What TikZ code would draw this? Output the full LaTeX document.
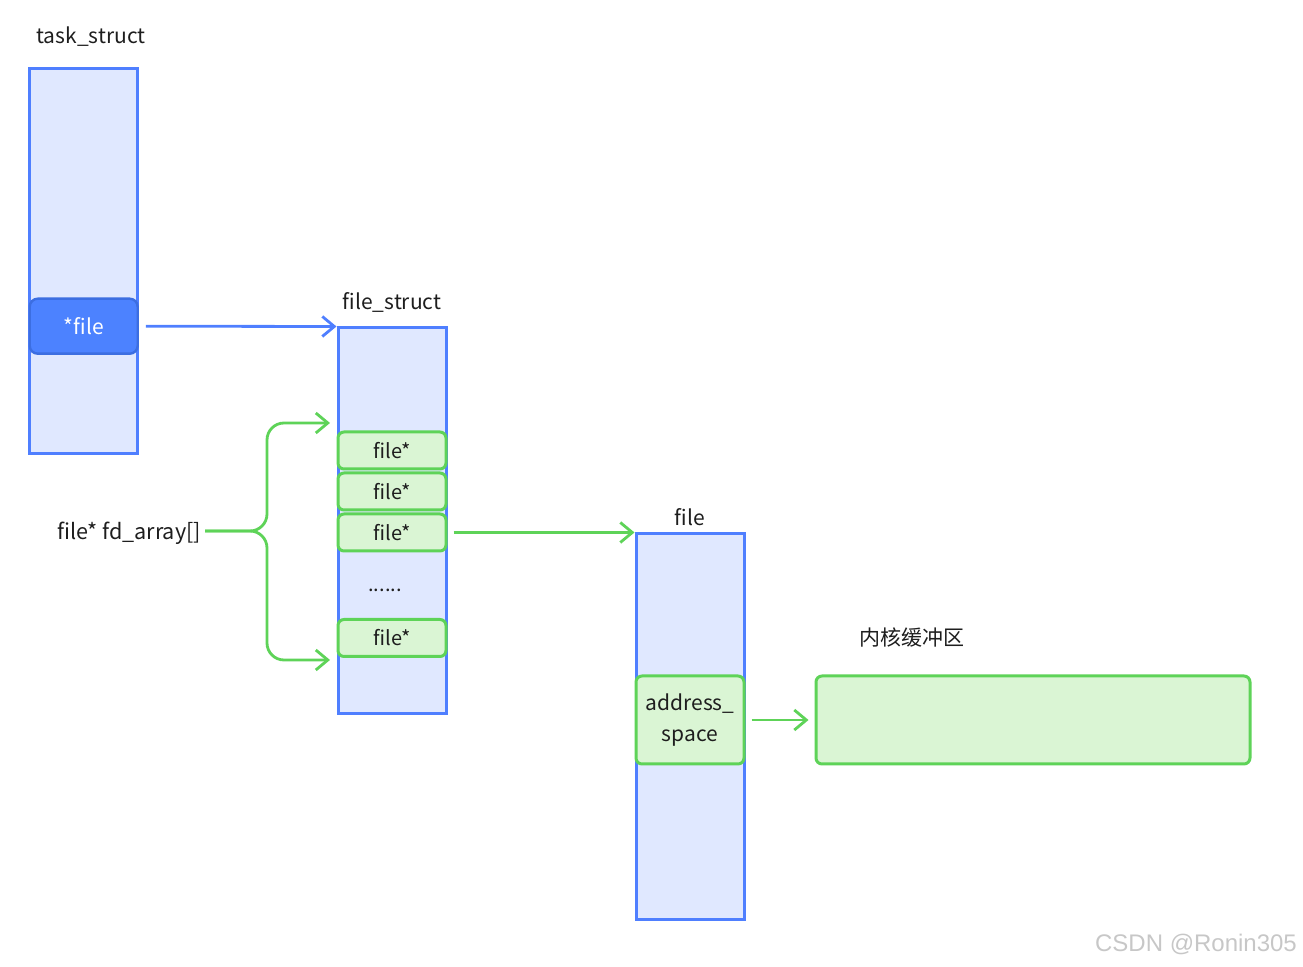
\documentclass[tikz,border=0pt]{standalone}
\usepackage{fontspec}
\setmainfont{Noto Sans CJK SC}
\newfontfamily\markfont{Liberation Sans}
\usetikzlibrary{arrows.meta}
\definecolor{boxblue}{RGB}{79,127,255}
\definecolor{boxfill}{RGB}{224,232,255}
\definecolor{ptrblue}{RGB}{76,130,255}
\definecolor{ptrline}{RGB}{60,110,225}
\definecolor{slotgreen}{RGB}{94,211,88}
\definecolor{slotfill}{RGB}{218,245,212}
\definecolor{labeltext}{RGB}{30,30,30}
\newcommand\slottext[1]{\raisebox{-1.5pt}{#1}}
\tikzset{
    structbox/.style={draw=boxblue, fill=boxfill, line width=1.5pt, anchor=north west,
        inner sep=0pt, minimum width=54pt},
    slotbox/.style={draw=slotgreen, fill=slotfill, line width=1.5pt, rounded corners=3pt,
        anchor=north west, inner sep=0pt, minimum width=54pt, text=labeltext,
        font=\fontsize{10}{12}\selectfont},
    namelabel/.style={text=labeltext, font=\fontsize{10.5}{12}\selectfont},
    bluelink/.style={draw=boxblue, line width=1.4pt, -{Straight Barb[length=6pt,width=10pt]}},
    greenlink/.style={draw=slotgreen, line width=1.4pt, -{Straight Barb[length=6pt,width=10pt]}}
}

\begin{document}
\begin{tikzpicture}[x=0.5pt, y=-0.5pt]
    \useasboundingbox (0,0) rectangle (1303,967);

    % task_struct
    \node[namelabel] (tslabel) at (91,37) {task\_struct};
    \node[structbox, minimum height=192.5pt] (ts) at (28,67.5) {};
    \node[draw=ptrline, fill=ptrblue, line width=1.2pt, rounded corners=4pt, anchor=north west,
        inner sep=0pt, minimum width=54pt, minimum height=27.5pt, text=white,
        font=\fontsize{10.5}{12}\selectfont] (fptr) at (28.5,297.5) {*file};

    % file_struct
    \node[namelabel] (fslabel) at (392,302) {file\_struct};
    \node[structbox, minimum height=193pt] (fs) at (336.5,326.5) {};
    \node[slotbox, minimum height=18.5pt] (slota) at (336.5,430.5) {\slottext{file*}};
    \node[slotbox, minimum height=18.5pt] (slotb) at (336.5,471.5) {\slottext{file*}};
    \node[slotbox, minimum height=18.5pt] (slotc) at (336.5,512.5) {\slottext{file*}};
    \node[text=labeltext, font=\fontsize{10}{12}\selectfont] (dots) at (385,590) {......};
    \node[slotbox, minimum height=18.5pt] (slotd) at (336.5,618) {\slottext{file*}};

    % file
    \node[namelabel] (filelabel) at (690,517) {file};
    \node[structbox, minimum height=193pt] (file) at (634.5,532.5) {};
    \node[slotbox, minimum height=44pt, align=center,
        font=\fontsize{10.5}{15.5}\selectfont] (aspace) at (634.5,674.5) {address\_\\space};

    % kernel buffer
    \node[namelabel] (buflabel) at (912,638) {内核缓冲区};
    \node[slotbox, minimum width=217pt, minimum height=44pt] (buf) at (814.5,674.5) {};

    % fd_array brace
    \node[namelabel, anchor=east, font=\fontsize{10.8}{12}\selectfont] (fdlabel) at (208,533) {file* fd\_array[]};
    \coordinate (fdtop) at (336,423);
    \coordinate (fdbottom) at (336,660);
    \draw[greenlink, rounded corners=8.5pt, shorten >=3pt] (fdlabel.east) ++(-3,-2) -- (267,531) -- (267,423) -- (fdtop);
    \draw[greenlink, rounded corners=8.5pt, shorten >=3pt] (fdlabel.east) ++(-3,-2) -- (267,531) -- (267,660) -- (fdbottom);

    % links
    \draw[bluelink, shorten <=3.5pt] (fptr.east) -- (fs.north west);
    \draw[greenlink, shorten <=3pt] (slotc.east) -- (file.north west);
    \draw[greenlink, shorten <=3pt, shorten >=3pt] (aspace.east) -- (buf.west);

    \node[text=black!22, font=\markfont\fontsize{12}{14}\selectfont] (mark) at (1196,944) {CSDN @Ronin305};
\end{tikzpicture}
\end{document}
